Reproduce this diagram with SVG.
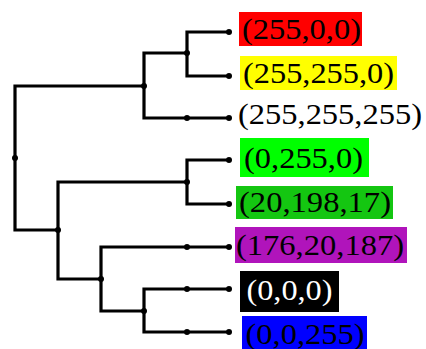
<svg xmlns="http://www.w3.org/2000/svg" width="426" height="349" viewBox="0 0 426 349">
<style>
.e{fill:none;stroke:#000;stroke-width:3.2;stroke-linejoin:miter;stroke-linecap:butt}
.d{fill:#000}
.t{font-family:"Liberation Serif","Times New Roman",serif;font-size:29px;fill:#000}
.w{fill:#fff}
</style>
<rect width="426" height="349" fill="#fff"/>
<g id="connectors">
<path class="e" d="M15,158 V86 H144"/>
<path class="e" d="M15,158 V230 H58"/>
<path class="e" d="M144,86 V53 H187"/>
<path class="e" d="M144,86 V118 H229"/>
<path class="e" d="M187,53 V32 H229"/>
<path class="e" d="M187,53 V76 H229"/>
<path class="e" d="M58,230 V182 H187"/>
<path class="e" d="M58,230 V279 H101"/>
<path class="e" d="M187,182 V160 H229"/>
<path class="e" d="M187,182 V204 H229"/>
<path class="e" d="M101,279 V247 H229"/>
<path class="e" d="M101,279 V311 H144"/>
<path class="e" d="M144,311 V289 H229"/>
<path class="e" d="M144,311 V332 H229"/>
</g>
<g id="root"><circle class="d" cx="15" cy="158" r="3"/></g>
<g id="n1"><circle class="d" cx="144" cy="86" r="3"/></g>
<g id="n2"><circle class="d" cx="187" cy="53" r="3"/></g>
<g id="n3"><circle class="d" cx="58" cy="230" r="3"/></g>
<g id="n4"><circle class="d" cx="187" cy="182" r="3"/></g>
<g id="n5"><circle class="d" cx="101" cy="279" r="3"/></g>
<g id="n6"><circle class="d" cx="144" cy="311" r="3"/></g>
<g id="leaf-red">
<circle class="d" cx="229" cy="32" r="3"/>
<rect x="239" y="12" width="123" height="34" fill="#ff0000"/>
<text class="t" x="242" y="38.5" textLength="119" lengthAdjust="spacingAndGlyphs">(255,0,0)</text>
</g>
<g id="leaf-yellow">
<circle class="d" cx="229" cy="76" r="3"/>
<rect x="240" y="56" width="157" height="34" fill="#ffff00"/>
<text class="t" x="243" y="82.5" textLength="151" lengthAdjust="spacingAndGlyphs">(255,255,0)</text>
</g>
<g id="leaf-white">
<circle class="d" cx="187" cy="118" r="3"/>
<circle class="d" cx="229" cy="118" r="3"/>
<text class="t" x="238" y="123.5" textLength="184" lengthAdjust="spacingAndGlyphs">(255,255,255)</text>
</g>
<g id="leaf-green">
<circle class="d" cx="229" cy="160" r="3"/>
<rect x="240" y="138" width="129" height="39" fill="#00ff00"/>
<text class="t" x="244" y="167.5" textLength="119" lengthAdjust="spacingAndGlyphs">(0,255,0)</text>
</g>
<g id="leaf-darkgreen">
<circle class="d" cx="229" cy="204" r="3"/>
<rect x="236" y="186" width="157" height="33" fill="#14c611"/>
<text class="t" x="239" y="212" textLength="152" lengthAdjust="spacingAndGlyphs">(20,198,17)</text>
</g>
<g id="leaf-purple">
<circle class="d" cx="187" cy="247" r="3"/>
<circle class="d" cx="229" cy="247" r="3"/>
<rect x="235" y="227" width="172" height="36" fill="#b014bb"/>
<text class="t" x="236" y="254.5" textLength="168" lengthAdjust="spacingAndGlyphs">(176,20,187)</text>
</g>
<g id="leaf-black">
<circle class="d" cx="187" cy="289" r="3"/>
<circle class="d" cx="229" cy="289" r="3"/>
<rect x="240" y="271" width="99" height="41" fill="#000000"/>
<text class="t w" x="246.5" y="300" textLength="86" lengthAdjust="spacingAndGlyphs">(0,0,0)</text>
</g>
<g id="leaf-blue">
<circle class="d" cx="187" cy="332" r="3"/>
<circle class="d" cx="229" cy="332" r="3"/>
<rect x="242" y="316" width="125" height="33" fill="#0000ff"/>
<text class="t" x="245.5" y="344" textLength="119" lengthAdjust="spacingAndGlyphs">(0,0,255)</text>
</g>
</svg>
